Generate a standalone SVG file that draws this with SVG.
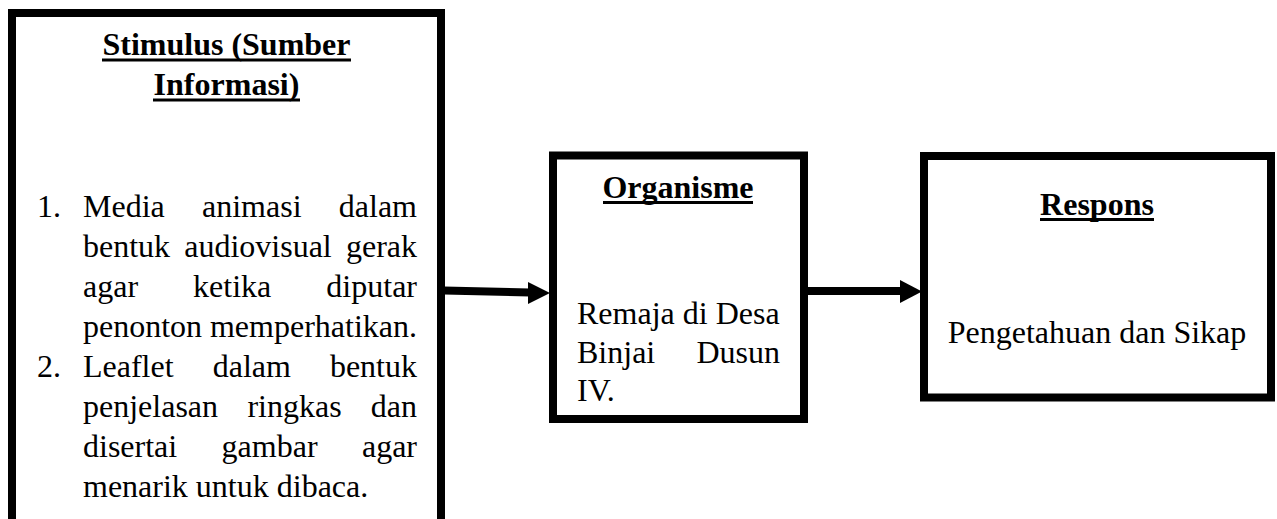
<svg xmlns="http://www.w3.org/2000/svg" width="1277" height="519" viewBox="0 0 1277 519">
<style>
.box{fill:#fff;stroke:#000;stroke-width:8}
.t{font-family:"Liberation Serif","Times New Roman",serif;font-size:32px;fill:#000}
.h{font-family:"Liberation Serif","Times New Roman",serif;font-size:32px;font-weight:bold;fill:#000}
.ul{stroke:#000;stroke-width:3}
.conn{stroke:#000;stroke-width:8;fill:none}
.head{fill:#000}
</style>
<rect width="1277" height="519" fill="#fff"/>
<g id="stimulus">
<rect class="box" x="12" y="13" width="429" height="530"/>
<text class="h" x="226.5" y="55" text-anchor="middle">Stimulus (Sumber</text>
<line class="ul" x1="102" y1="60" x2="351" y2="60"/>
<text class="h" x="226.5" y="95" text-anchor="middle">Informasi)</text>
<line class="ul" x1="153" y1="100" x2="300" y2="100"/>
<text class="t" x="37" y="217">1.</text>
<text class="t" x="83" y="217">Media</text>
<text class="t" x="202" y="217">animasi</text>
<text class="t" x="417" y="217" text-anchor="end">dalam</text>
<text class="t" x="83" y="257">bentuk</text>
<text class="t" x="184.2" y="257">audiovisual</text>
<text class="t" x="417" y="257" text-anchor="end">gerak</text>
<text class="t" x="83" y="297">agar</text>
<text class="t" x="193.1" y="297">ketika</text>
<text class="t" x="417" y="297" text-anchor="end">diputar</text>
<text class="t" x="83" y="337">penonton</text>
<text class="t" x="417" y="337" text-anchor="end">memperhatikan.</text>
<text class="t" x="37" y="377">2.</text>
<text class="t" x="83" y="377">Leaflet</text>
<text class="t" x="212.7" y="377">dalam</text>
<text class="t" x="417" y="377" text-anchor="end">bentuk</text>
<text class="t" x="83" y="417">penjelasan</text>
<text class="t" x="247.4" y="417">ringkas</text>
<text class="t" x="417" y="417" text-anchor="end">dan</text>
<text class="t" x="83" y="457">disertai</text>
<text class="t" x="221.6" y="457">gambar</text>
<text class="t" x="417" y="457" text-anchor="end">agar</text>
<text class="t" x="83" y="497">menarik untuk dibaca.</text>
</g>
<g id="organisme">
<rect class="box" x="553" y="155.5" width="251" height="263.5"/>
<text class="h" x="678" y="198" text-anchor="middle">Organisme</text>
<line class="ul" x1="603" y1="202.5" x2="753" y2="202.5"/>
<text class="t" x="577" y="324">Remaja di Desa</text>
<text class="t" x="577" y="363">Binjai</text>
<text class="t" x="780" y="363" text-anchor="end">Dusun</text>
<text class="t" x="577" y="401">IV.</text>
</g>
<g id="respons">
<rect class="box" x="924" y="156" width="347" height="241.5"/>
<text class="h" x="1097" y="215" text-anchor="middle">Respons</text>
<line class="ul" x1="1040" y1="219.5" x2="1154" y2="219.5"/>
<text class="t" x="1097" y="343" text-anchor="middle">Pengetahuan dan Sikap</text>
</g>
<g id="connectors">
<line class="conn" x1="444" y1="290.5" x2="530" y2="292.5"/>
<polygon class="head" points="528,282 550,293 528,304"/>
<line class="conn" x1="807" y1="291" x2="902" y2="291"/>
<polygon class="head" points="900,280 922,291.5 900,303"/>
</g>
</svg>
